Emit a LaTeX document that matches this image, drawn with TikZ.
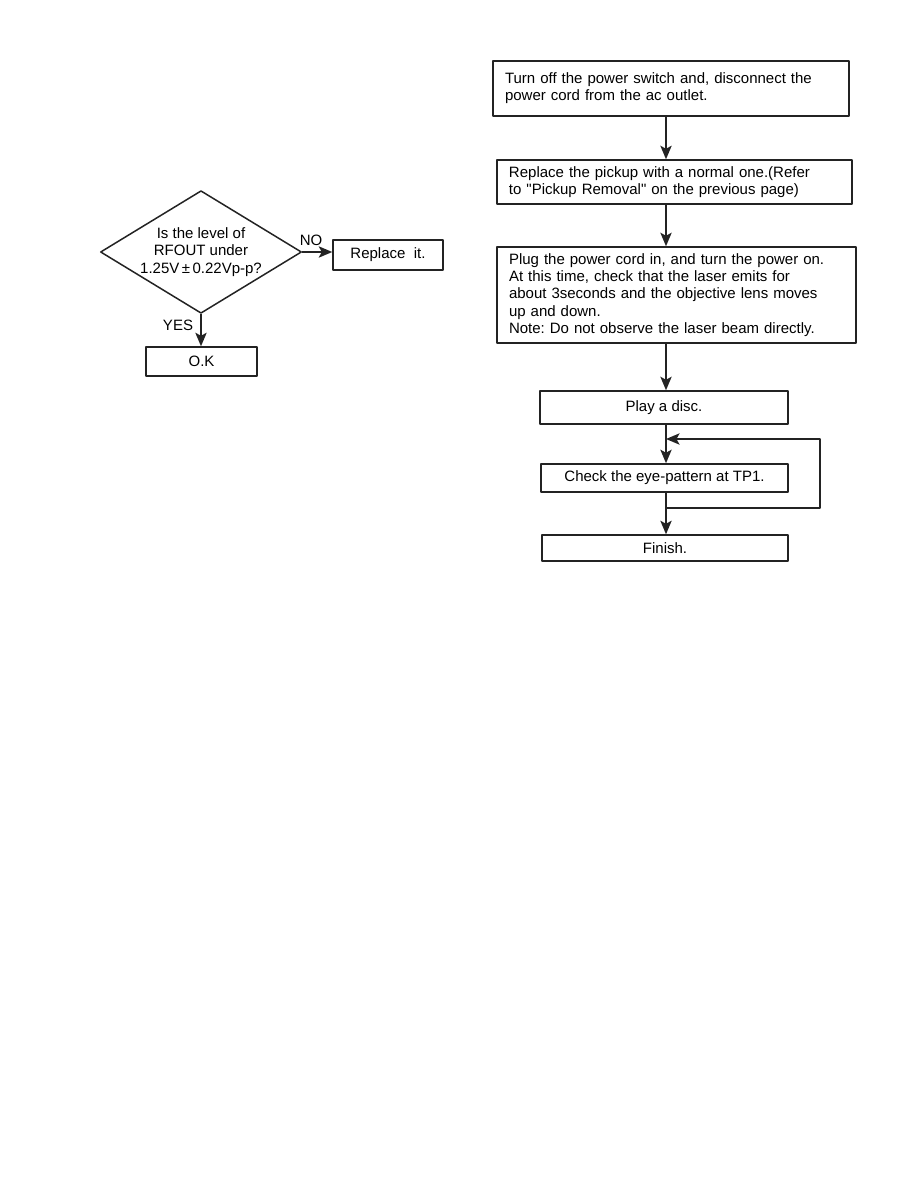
\documentclass[tikz,border=0pt]{standalone}
\usepackage{fontspec}
\setmainfont{Liberation Sans}
\usetikzlibrary{shapes.geometric,arrows.meta}
\frenchspacing

\begin{document}
\begin{tikzpicture}[x=0.6667pt,y=-0.6667pt,line cap=round,line join=round,
  font=\fontsize{10}{11.5}\selectfont,
  stepbox/.style={draw=linegray,line width=1pt,inner sep=0pt,fill=white},
  notebox/.style={stepbox,align=left,inner xsep=8pt,inner ysep=0pt},
  decision/.style={draw=linegray,line width=1pt,shape=diamond,aspect=1.64,
    minimum width=131.3pt,minimum height=80pt,inner sep=0pt,align=center},
  flow/.style={draw=linegray,line width=1.2pt,line cap=butt,
    -{Stealth[length=9pt,width=7.5pt,inset=2pt]}}]
\definecolor{linegray}{RGB}{35,35,35}

\useasboundingbox (0,0) rectangle (918,1188);

% left chart
\node[decision] (level) at (201,252) {Is the level of\\RFOUT under\\1.25V\,±\,0.22Vp-p?};
\node[stepbox,minimum width=73.3pt,minimum height=20pt] (replace) at (388,255) {Replace\ \ it.};
\node[stepbox,minimum width=74pt,minimum height=19.3pt] (ok) at (201.5,361.5) {O.K};
\node (no) at (311,240) {NO};
\node (yes) at (178,325) {YES};

\draw[flow] (level.east) -- (level.east -| replace.west);
\draw[flow] (level.south) -- (level.south |- ok.north);

% right chart
\coordinate (spine) at (666,0);

\node[notebox,text width=221.3pt,minimum height=36.7pt] (off) at (671,88.5)
  {Turn off the power switch and, disconnect the\\power cord from the ac outlet.};
\node[notebox,text width=220.7pt,minimum height=29.3pt] (pickup) at (674.5,182)
  {Replace the pickup with a normal one.(Refer\\to \textquotedbl Pickup Removal\textquotedbl{} on the previous page)};
\node[notebox,text width=223.3pt,minimum height=64pt] (plug) at (676.5,295)
  {Plug the power cord in, and turn the power on.\\At this time, check that the laser emits for\\about 3seconds and the objective lens moves\\up and down.\\Note: Do not observe the laser beam directly.};
\node[stepbox,minimum width=165.3pt,minimum height=22pt] (play) at (664,407.5) {Play a disc.};
\node[stepbox,minimum width=164.7pt,minimum height=18.7pt] (check) at (664.5,478) {Check the eye-pattern at TP1.};
\node[stepbox,minimum width=164pt,minimum height=17.3pt] (finish) at (665,548) {Finish.};

\coordinate (loopin) at (666,439);
\coordinate (loopout) at (666,508);

\draw[flow] (off.south -| spine) -- (pickup.north -| spine);
\draw[flow] (pickup.south -| spine) -- (plug.north -| spine);
\draw[flow] (plug.south -| spine) -- (play.north -| spine);
\draw[flow] (play.south -| spine) -- (check.north -| spine);
\draw[flow] (check.south -| spine) -- (finish.north -| spine);
\draw[flow] (loopout) -- ++(154,0) |- (loopin);
\end{tikzpicture}
\end{document}
